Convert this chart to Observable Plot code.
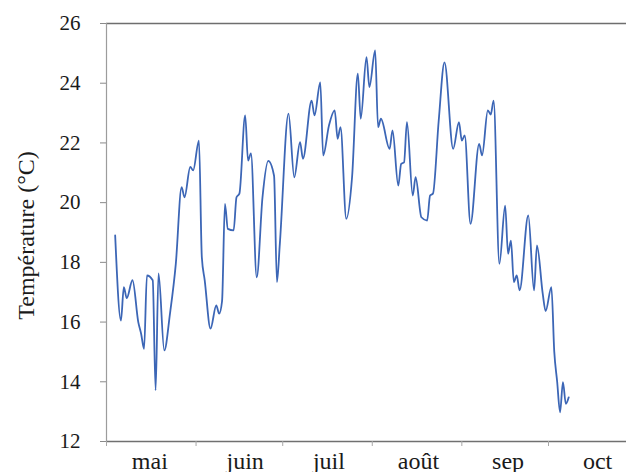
<!DOCTYPE html>
<html>
<head>
<meta charset="utf-8">
<script src="https://cdn.jsdelivr.net/npm/d3@7"></script>
<script src="https://cdn.jsdelivr.net/npm/@observablehq/plot@0.6"></script>
<style>
  html, body { margin: 0; padding: 0; background: #fff; }
  #chart svg text { font-family: 'Liberation Serif', 'Times New Roman', Times, serif; }
</style>
</head>
<body>
<div id="chart"></div>
<script>
// Température journalière lissée, mai à octobre
const dates = [
  "2018-05-04", "2018-05-06", "2018-05-07", "2018-05-08", "2018-05-10", "2018-05-12",
  "2018-05-13", "2018-05-14", "2018-05-15", "2018-05-17", "2018-05-18", "2018-05-19",
  "2018-05-21", "2018-05-23", "2018-05-25", "2018-05-27", "2018-05-28", "2018-05-30",
  "2018-05-31", "2018-06-02", "2018-06-03", "2018-06-04", "2018-06-06", "2018-06-08",
  "2018-06-09", "2018-06-10", "2018-06-11", "2018-06-12", "2018-06-14", "2018-06-15",
  "2018-06-16", "2018-06-18", "2018-06-19", "2018-06-20", "2018-06-22", "2018-06-24",
  "2018-06-26", "2018-06-28", "2018-06-29", "2018-06-30", "2018-07-03", "2018-07-05",
  "2018-07-07", "2018-07-08", "2018-07-11", "2018-07-12", "2018-07-14", "2018-07-15",
  "2018-07-17", "2018-07-19", "2018-07-20", "2018-07-21", "2018-07-23", "2018-07-25",
  "2018-07-27", "2018-07-28", "2018-07-30", "2018-07-31", "2018-08-02", "2018-08-03",
  "2018-08-04", "2018-08-07", "2018-08-08", "2018-08-10", "2018-08-11", "2018-08-12",
  "2018-08-13", "2018-08-15", "2018-08-16", "2018-08-18", "2018-08-20", "2018-08-21",
  "2018-08-22", "2018-08-24", "2018-08-26", "2018-08-29", "2018-08-31", "2018-09-01",
  "2018-09-02", "2018-09-04", "2018-09-07", "2018-09-08", "2018-09-10", "2018-09-11",
  "2018-09-12", "2018-09-14", "2018-09-16", "2018-09-17", "2018-09-18", "2018-09-19",
  "2018-09-20", "2018-09-21", "2018-09-24", "2018-09-26", "2018-09-27", "2018-09-29",
  "2018-09-30", "2018-10-02", "2018-10-03", "2018-10-04", "2018-10-05", "2018-10-06",
  "2018-10-07", "2018-10-08"
];
const temps = [
  18.9, 16.05, 17.17, 16.8, 17.4, 16.0,
  15.6, 15.1, 17.56, 17.4, 13.71, 17.63,
  15.05, 16.3, 17.96, 20.52, 20.18, 21.2,
  21.08, 22.08, 18.17, 17.4, 15.78, 16.56,
  16.28, 16.7, 19.96, 19.12, 19.07, 20.18,
  20.3, 22.92, 21.41, 21.65, 17.5, 20.18,
  21.4, 20.9, 17.34, 18.62, 22.98, 20.85,
  22.03, 21.47, 23.42, 22.92, 24.03, 21.58,
  22.58, 23.09, 22.14, 22.53, 19.46, 20.85,
  24.32, 22.81, 24.87, 23.87, 25.1, 22.53,
  22.81, 21.8, 22.42, 20.57, 21.3, 21.35,
  22.7, 20.24, 20.85, 19.51, 19.4, 20.24,
  20.3, 22.75, 24.7, 21.8, 22.7, 22.08,
  22.25, 19.29, 21.97, 21.58, 23.09, 22.95,
  23.42, 17.95, 19.9, 18.29, 18.73, 17.34,
  17.56, 17.06, 19.57, 17.06, 18.57, 16.95,
  16.37, 17.17, 15.0, 14.0, 12.98, 13.99,
  13.26, 13.48
];

// Axe des mois : traits au premier du mois, noms au milieu du mois
const monthStarts = ["2018-05-01", "2018-06-01", "2018-07-01", "2018-08-01", "2018-09-01", "2018-10-01"];
const monthLabelDates = ["2018-05-16", "2018-06-18", "2018-07-17", "2018-08-17", "2018-09-17", "2018-10-18"];
const monthNames = ["mai", "juin", "juil", "août", "sep", "oct"];
const yTicks = [12, 14, 16, 18, 20, 22, 24, 26];
const yTitle = "Température (°C)";

const series = dates.map((d, i) => ({date: new Date(d), temp: temps[i]}));
const labels = monthNames.map((name, i) => ({date: new Date(monthLabelDates[i]), name}));
const starts = monthStarts.map((d) => new Date(d));

const serif = "'Liberation Serif', 'Times New Roman', Times, serif";

const chart = Plot.plot({
  width: 626,
  height: 472,
  marginTop: 23,
  marginBottom: 31,
  marginLeft: 106,
  marginRight: 0,
  style: {fontFamily: serif, background: "#fff", color: "#1a1a1a", overflow: "visible"},
  x: {type: "utc", domain: [new Date("2018-05-01"), new Date("2018-10-28")]},
  y: {domain: [12, 26]},
  marks: [
    // cadre : lignes haute et basse, axe vertical gauche
    Plot.ruleY([yTicks[yTicks.length - 1]], {stroke: "#6e6e6e", strokeWidth: 1.3}),
    Plot.ruleY([yTicks[0]], {stroke: "#707070", strokeWidth: 1.3}),
    Plot.ruleX([starts[0]], {stroke: "#9c9c9c", strokeWidth: 1.2}),
    Plot.axisY(yTicks, {
      tickSize: 6, tickPadding: 20, fontSize: 21, label: null,
      stroke: "#8a8a8a", fill: "#1a1a1a", fontFamily: serif
    }),
    Plot.axisX(starts, {tickSize: 5, fill: "none", label: null, stroke: "#a8a8a8"}),
    Plot.text(labels, {
      x: "date", text: "name", frameAnchor: "bottom", lineAnchor: "top",
      dy: 10, fontSize: 24, fill: "#1a1a1a", fontFamily: serif
    }),
    Plot.text([yTitle], {
      frameAnchor: "left", rotate: -90, dx: -73, dy: 3,
      lineAnchor: "bottom", textAnchor: "middle", fontSize: 24, fill: "#1a1a1a", fontFamily: serif
    }),
    Plot.line(series, {
      x: "date", y: "temp", stroke: "#3c66b6", strokeWidth: 1.8, curve: "monotone-x"
    })
  ]
});

document.getElementById("chart").appendChild(chart);
</script>
</body>
</html>
